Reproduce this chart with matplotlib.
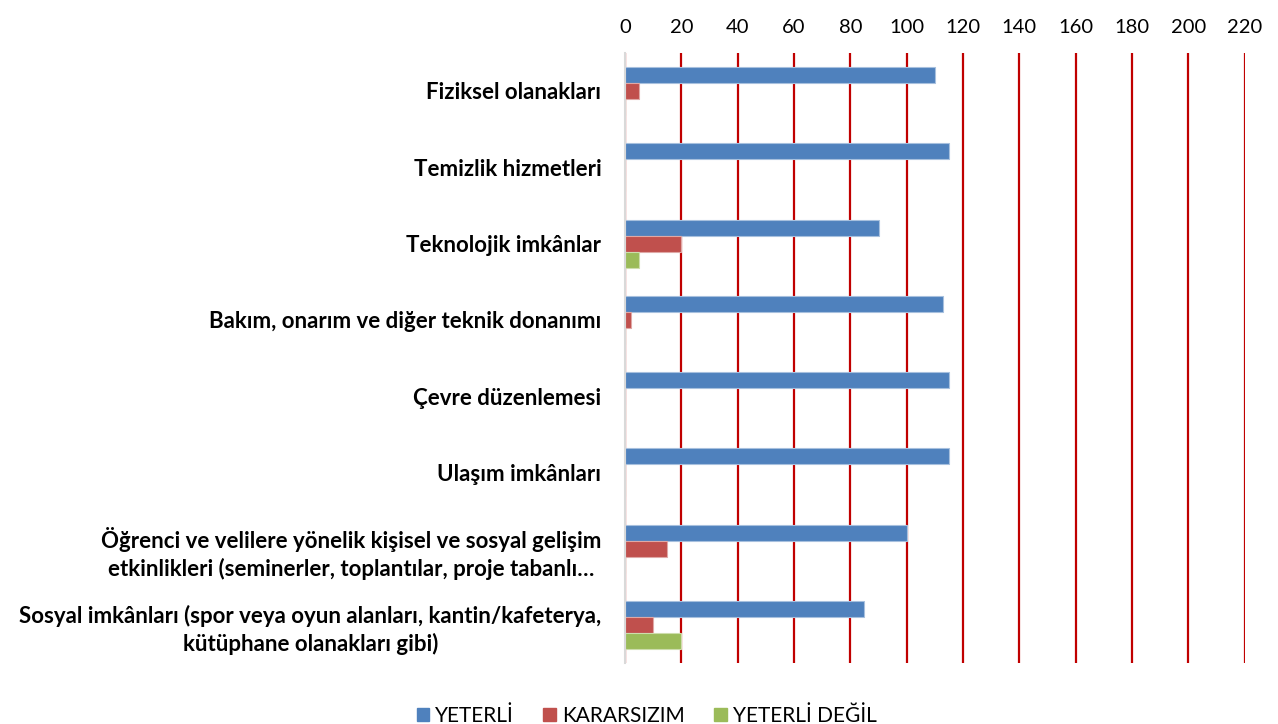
import numpy as np
import matplotlib.pyplot as plt
from matplotlib.patches import Patch

kategoriler = ['Fiziksel olanakları',
               'Temizlik hizmetleri',
               'Teknolojik imkânlar',
               'Bakım, onarım ve diğer teknik donanımı',
               'Çevre düzenlemesi',
               'Ulaşım imkânları',
               'Öğrenci ve velilere yönelik kişisel ve sosyal gelişim\netkinlikleri (seminerler, toplantılar, proje tabanlı…',
               'Sosyal imkânları (spor veya oyun alanları, kantin/kafeterya,\nkütüphane olanakları gibi)']
yeterli = [110, 115, 90, 113, 115, 115, 100, 85]
kararsizim = [5, 0, 20, 2, 0, 0, 15, 10]
yeterli_degil = [0, 0, 5, 0, 0, 0, 0, 20]
seriler = ['YETERLİ', 'KARARSIZIM', 'YETERLİ DEĞİL']
renkler = ['#4F81BD', '#C0504D', '#9BBB59']
kenarlar = ['#A7C0DE', '#DFA8A6', '#CDDDAC']
x_ticks = list(range(0, 221, 20))

plt.rcParams['font.family'] = ['Lato', 'DejaVu Sans']

fig = plt.figure(figsize=(12.78, 7.24), dpi=100)
ax = fig.add_axes([0.489, 0.084, 0.485, 0.843])

y = np.arange(len(kategoriler))
h = 0.21  # bar thickness
for i, (vals, ad) in enumerate(zip([yeterli, kararsizim, yeterli_degil], seriler)):
    ax.barh(y + (i - 1) * h, vals, height=h, color=renkler[i], edgecolor=kenarlar[i],
            linewidth=0.8, label=ad, zorder=3)

ax.set_ylim(len(kategoriler) - 0.5, -0.5)
ax.set_xlim(0, 220)
ax.set_xticks(x_ticks)
ax.xaxis.tick_top()
ax.tick_params(axis='x', length=0, labelsize=14.5, pad=12)
ax.tick_params(axis='y', length=0, pad=17)
ax.set_yticks(y)
ax.set_yticklabels(kategoriler, fontsize=16, fontweight='bold', multialignment='center',
                   linespacing=1.3)
ax.grid(axis='x', color='#C00000', linewidth=1.6, zorder=0)
ax.set_axisbelow(True)
for s in ['top', 'right', 'bottom']:
    ax.spines[s].set_visible(False)
ax.spines['left'].set_color('#D9D9D9')
ax.spines['left'].set_linewidth(1.5)
ax.spines['left'].set_zorder(4)

handles = [Patch(facecolor=c, edgecolor=c) for c in renkler]
fig.legend(handles, seriler, loc='lower center', bbox_to_anchor=(0.506, -0.028), ncol=3,
           frameon=False, fontsize=15, handlelength=0.6, handleheight=0.6,
           handletextpad=0.3, columnspacing=1.4)

plt.savefig('out.png', dpi=100)
